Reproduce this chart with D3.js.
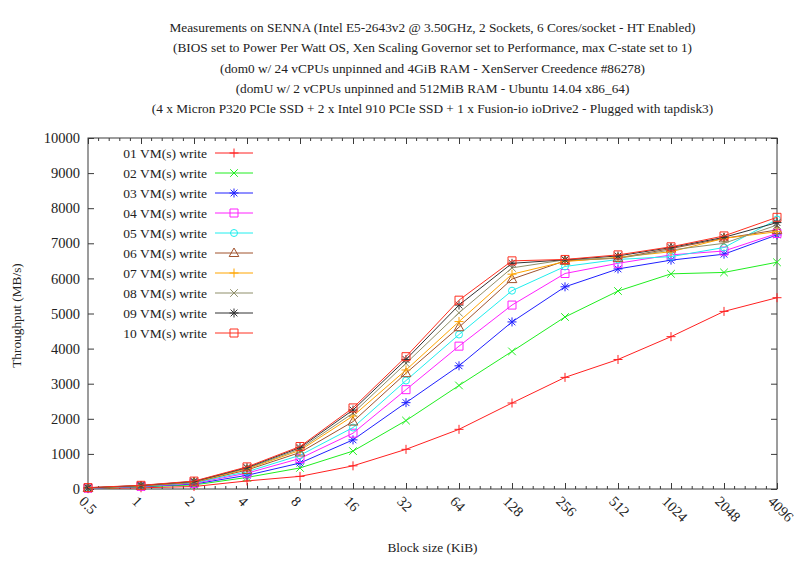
<!DOCTYPE html>
<html>
<head>
<meta charset="utf-8">
<script src="https://cdn.jsdelivr.net/npm/d3@7"></script>
<style>
  body { margin: 0; background: #fff; }
  svg text { font-family: "Liberation Serif", "DejaVu Serif", serif; fill: #222; }
</style>
</head>
<body>
<svg width="800" height="562"></svg>
<script>
// block sizes (KiB) on the x axis
const blockSizes = ["0.5", "1", "2", "4", "8", "16", "32", "64", "128", "256", "512", "1024", "2048", "4096"];

// throughput (MB/s) for 1..10 VMs
const vm01 = [10, 35, 70, 230, 360, 660, 1130, 1700, 2450, 3180, 3690, 4340, 5060, 5450];
const vm02 = [15, 60, 115, 330, 600, 1080, 1950, 2950, 3920, 4900, 5640, 6130, 6170, 6460];
const vm03 = [20, 70, 140, 390, 740, 1400, 2460, 3510, 4760, 5760, 6270, 6520, 6690, 7240];
const vm04 = [22, 75, 160, 450, 870, 1590, 2830, 4070, 5240, 6140, 6430, 6670, 6780, 7280];
const vm05 = [25, 80, 175, 490, 960, 1750, 3090, 4400, 5650, 6340, 6540, 6620, 6880, 7680];
const vm06 = [28, 85, 190, 540, 1040, 1920, 3300, 4610, 5980, 6500, 6580, 6850, 7140, 7380];
const vm07 = [30, 90, 200, 570, 1100, 2080, 3390, 4770, 6120, 6480, 6600, 6760, 7140, 7330];
const vm08 = [32, 95, 210, 590, 1140, 2160, 3580, 5020, 6300, 6530, 6570, 6810, 7000, 7520];
const vm09 = [35, 100, 215, 610, 1180, 2250, 3690, 5240, 6430, 6530, 6640, 6880, 7170, 7590];
const vm10 = [40, 105, 225, 630, 1210, 2310, 3770, 5380, 6500, 6540, 6670, 6900, 7210, 7740];

const seriesNames = ["01 VM(s) write", "02 VM(s) write", "03 VM(s) write", "04 VM(s) write", "05 VM(s) write",
                     "06 VM(s) write", "07 VM(s) write", "08 VM(s) write", "09 VM(s) write", "10 VM(s) write"];
const seriesValues = [vm01, vm02, vm03, vm04, vm05, vm06, vm07, vm08, vm09, vm10];

const yTicks = [0, 1000, 2000, 3000, 4000, 5000, 6000, 7000, 8000, 9000, 10000];

const titleLines = [
  "Measurements on SENNA (Intel E5-2643v2 @ 3.50GHz, 2 Sockets, 6 Cores/socket - HT Enabled)",
  "(BIOS set to Power Per Watt OS, Xen Scaling Governor set to Performance, max C-state set to 1)",
  "(dom0 w/ 24 vCPUs unpinned and 4GiB RAM - XenServer Creedence #86278)",
  "(domU w/ 2 vCPUs unpinned and 512MiB RAM - Ubuntu 14.04 x86_64)",
  "(4 x Micron P320 PCIe SSD + 2 x Intel 910 PCIe SSD + 1 x Fusion-io ioDrive2 - Plugged with tapdisk3)"
];

// styles (gnuplot-like line colours and point types)
const colors = ["#ff2020", "#20ee20", "#2020ff", "#ff20ff", "#20eeee", "#a0522d", "#ffa500", "#8f8f6a", "#333333", "#ff3020"];
const markers = ["plus", "cross", "star", "square", "circle", "triangle", "plus", "cross", "star", "square"];

const svg = d3.select("svg");
const plotLeft = 88, plotRight = 777, plotTop = 138, plotBottom = 489;

const x = d3.scalePoint().domain(blockSizes).range([plotLeft, plotRight]);
const y = d3.scaleLinear().domain([0, 10000]).range([plotBottom, plotTop]);

// title
svg.append("g").selectAll("text")
  .data(titleLines)
  .enter().append("text")
  .attr("x", (plotLeft + plotRight) / 2)
  .attr("y", (d, i) => 32 + i * 20.3)
  .attr("text-anchor", "middle")
  .attr("font-size", "13.3px")
  .text(d => d);

// minor x ticks
const step = x.step();
const minorX = [];
blockSizes.slice(0, -1).forEach(b => {
  [0.2, 0.4, 0.6, 0.8].forEach(f => minorX.push(x(b) + f * step));
});

const axisColor = "#3a3a3a";

// left axis
const yAxis = svg.append("g")
  .attr("transform", `translate(${plotLeft},0)`)
  .call(d3.axisLeft(y).tickValues(yTicks).tickSizeInner(-6).tickSizeOuter(0).tickPadding(8).tickFormat(d3.format("d")));
yAxis.selectAll("text").attr("font-size", "14.5px").attr("font-family", "Liberation Serif");

// right axis (mirror)
svg.append("g")
  .attr("transform", `translate(${plotRight},0)`)
  .call(d3.axisRight(y).tickValues(yTicks).tickSizeInner(-6).tickSizeOuter(0).tickFormat(""));

// bottom axis
const xAxis = svg.append("g")
  .attr("transform", `translate(0,${plotBottom})`)
  .call(d3.axisBottom(x).tickSizeInner(-6).tickSizeOuter(0).tickPadding(0));
xAxis.selectAll("text")
  .attr("font-size", "14.5px")
  .attr("font-family", "Liberation Serif")
  .attr("text-anchor", "start")
  .attr("dy", null)
  .attr("y", 0)
  .attr("transform", "translate(-3,6) rotate(45)")
  .attr("dominant-baseline", "hanging");

// top axis (mirror)
svg.append("g")
  .attr("transform", `translate(0,${plotTop})`)
  .call(d3.axisTop(x).tickSizeInner(-6).tickSizeOuter(0).tickFormat(""));

// minor ticks top and bottom
svg.append("g").selectAll("line")
  .data(minorX).enter().append("line")
  .attr("x1", d => d).attr("x2", d => d)
  .attr("y1", plotBottom).attr("y2", plotBottom - 3)
  .attr("stroke", axisColor);
svg.append("g").selectAll("line")
  .data(minorX).enter().append("line")
  .attr("x1", d => d).attr("x2", d => d)
  .attr("y1", plotTop).attr("y2", plotTop + 3)
  .attr("stroke", axisColor);

svg.selectAll(".domain").remove();
svg.selectAll(".tick line").attr("stroke", axisColor);

// frame
svg.append("rect")
  .attr("x", plotLeft).attr("y", plotTop)
  .attr("width", plotRight - plotLeft).attr("height", plotBottom - plotTop)
  .attr("fill", "none").attr("stroke", axisColor).attr("stroke-width", 1);

// axis titles
svg.append("text")
  .attr("transform", `translate(21,${(plotTop + plotBottom) / 2 + 2}) rotate(-90)`)
  .attr("text-anchor", "middle")
  .attr("font-size", "13.3px")
  .text("Throughput (MB/s)");

svg.append("text")
  .attr("x", (plotLeft + plotRight) / 2)
  .attr("y", 552)
  .attr("text-anchor", "middle")
  .attr("font-size", "13.3px")
  .text("Block size (KiB)");

// point symbols
function drawMarker(g, type, cx, cy, color) {
  const s = 4.5;
  const p = d3.path();
  if (type === "plus" || type === "star") {
    p.moveTo(cx - s, cy); p.lineTo(cx + s, cy);
    p.moveTo(cx, cy - s); p.lineTo(cx, cy + s);
  }
  if (type === "cross" || type === "star") {
    const c = type === "star" ? 3.4 : 3.8;
    p.moveTo(cx - c, cy - c); p.lineTo(cx + c, cy + c);
    p.moveTo(cx - c, cy + c); p.lineTo(cx + c, cy - c);
  }
  if (type === "square") {
    p.rect(cx - 4, cy - 4, 8, 8);
  }
  if (type === "circle") {
    p.moveTo(cx + 3.5, cy);
    p.arc(cx, cy, 3.5, 0, 2 * Math.PI);
  }
  if (type === "triangle") {
    p.moveTo(cx, cy - 5); p.lineTo(cx + 4.8, cy + 3.5); p.lineTo(cx - 4.8, cy + 3.5); p.closePath();
  }
  g.append("path").attr("d", p.toString())
    .attr("fill", "none").attr("stroke", color).attr("stroke-width", 1);
}

const line = d3.line()
  .x((d, i) => x(blockSizes[i]))
  .y(d => y(d));

const plot = svg.append("g");
seriesValues.forEach((vals, k) => {
  const g = plot.append("g");
  g.append("path")
    .datum(vals)
    .attr("d", line)
    .attr("fill", "none")
    .attr("stroke", colors[k])
    .attr("stroke-width", 1);
  vals.forEach((v, i) => drawMarker(g, markers[k], x(blockSizes[i]), y(v), colors[k]));
});

// legend
const legend = svg.append("g");
seriesNames.forEach((name, k) => {
  const ly = 153 + k * 20;
  legend.append("text")
    .attr("x", 207).attr("y", ly + 4.5)
    .attr("text-anchor", "end")
    .attr("font-size", "13.5px")
    .text(name);
  legend.append("line")
    .attr("x1", 215).attr("x2", 253)
    .attr("y1", ly).attr("y2", ly)
    .attr("stroke", colors[k]).attr("stroke-width", 1);
  drawMarker(legend, markers[k], 234, ly, colors[k]);
});
</script>
</body>
</html>
